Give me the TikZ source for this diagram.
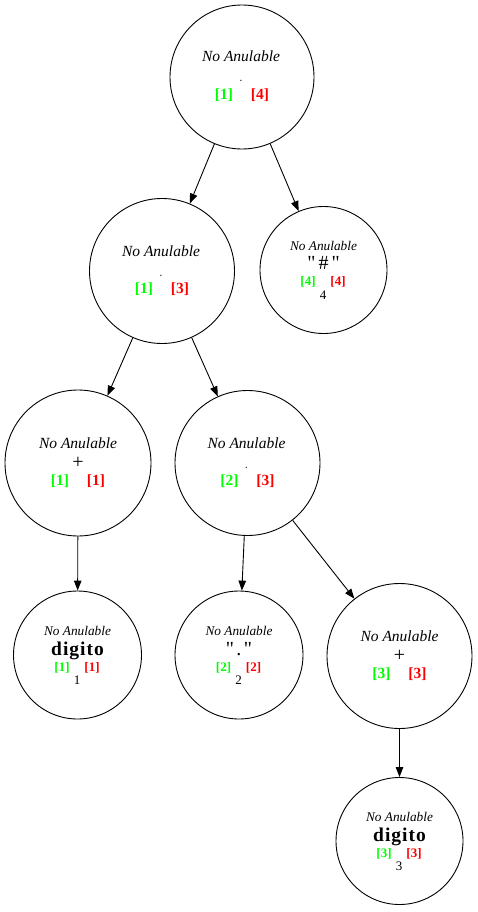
\documentclass[tikz,border=0pt]{standalone}
\usepackage{fontspec}
\setmainfont{Liberation Serif}[Ligatures=TeXOff]
\usetikzlibrary{arrows.meta}
\definecolor{gvgreen}{RGB}{0,255,0}
\definecolor{gvred}{RGB}{255,0,0}
\newcommand{\fs}[1]{\fontsize{#1}{#1}\selectfont}
\begin{document}
\begin{tikzpicture}[x=1pt,y=-1pt,
  vtx/.style={circle,draw,line width=0.9pt,inner sep=0pt,minimum size=#1},
  txt/.style={inner sep=0pt,anchor=base},
  bigna/.style={txt,font=\fs{15.5}\itshape},
  bigmid/.style={txt,font=\fs{20}},
  bigdot/.style={txt,font=\fs{13},text=black!75},
  bigbr/.style={txt,font=\fs{15.5}\bfseries},
  smna/.style={txt,font=\fs{13.3}\itshape},
  smmid/.style={txt,font=\fs{20}},
  smbold/.style={txt,font=\fs{19.5}\bfseries\addfontfeature{LetterSpace=5}},
  smbr/.style={txt,font=\fs{13}\bfseries},
  smnum/.style={txt,font=\fs{13}},
  arr/.style={line width=0.9pt,-{Triangle[length=10pt,width=7.5pt]}}]
\useasboundingbox (0,0) rectangle (477,912);
% circles
\node[vtx=144pt] (n1) at (242,77) {};
\node[vtx=145pt] (n2) at (162,271) {};
\node[vtx=127pt] (n3) at (323.5,270) {};
\node[vtx=146pt] (n4) at (78,463) {};
\node[vtx=145pt] (n5) at (247.5,463) {};
\node[vtx=128pt] (n6) at (77.5,655) {};
\node[vtx=128pt] (n7) at (239,655) {};
\node[vtx=145pt] (n8) at (399.5,656) {};
\node[vtx=127pt] (n9) at (399.5,841) {};
% big node texts
\node[bigna] (n1a) at ([shift={(-1,-15)}]n1.center) {No Anulable};
\node[bigdot] (n1b) at ([shift={(-1,5)}]n1.center) {.};
\node[bigbr,text=gvgreen] (n1c) at ([shift={(-18,22.5)}]n1.center) {[1]};
\node[bigbr,text=gvred] (n1d) at ([shift={(18,22.5)}]n1.center) {[4]};
\node[bigna] (n2a) at ([shift={(-1,-15)}]n2.center) {No Anulable};
\node[bigdot] (n2b) at ([shift={(-1,5)}]n2.center) {.};
\node[bigbr,text=gvgreen] (n2c) at ([shift={(-18,22)}]n2.center) {[1]};
\node[bigbr,text=gvred] (n2d) at ([shift={(18,22)}]n2.center) {[3]};
\node[bigna] (n4a) at ([shift={(0,-15)}]n4.center) {No Anulable};
\node[bigmid] (n4b) at ([shift={(0,5)}]n4.center) {+};
\node[bigbr,text=gvgreen] (n4c) at ([shift={(-18,22.5)}]n4.center) {[1]};
\node[bigbr,text=gvred] (n4d) at ([shift={(18,22.5)}]n4.center) {[1]};
\node[bigna] (n5a) at ([shift={(-1,-15)}]n5.center) {No Anulable};
\node[bigdot] (n5b) at ([shift={(-1,5)}]n5.center) {.};
\node[bigbr,text=gvgreen] (n5c) at ([shift={(-18,22.5)}]n5.center) {[2]};
\node[bigbr,text=gvred] (n5d) at ([shift={(18,22.5)}]n5.center) {[3]};
\node[bigna] (n8a) at ([shift={(0,-15)}]n8.center) {No Anulable};
\node[bigmid] (n8b) at ([shift={(0,5)}]n8.center) {+};
\node[bigbr,text=gvgreen] (n8c) at ([shift={(-18,22.5)}]n8.center) {[3]};
\node[bigbr,text=gvred] (n8d) at ([shift={(18,22.5)}]n8.center) {[3]};
% small node texts
\node[smna] (n3a) at ([shift={(0,-20)}]n3.center) {No Anulable};
\node[smmid] (n3b) at ([shift={(0,-1)}]n3.center) {"\kern3pt\#\kern3pt"};
\node[smbr,text=gvgreen] (n3c) at ([shift={(-15.5,15.5)}]n3.center) {[4]};
\node[smbr,text=gvred] (n3d) at ([shift={(14.5,15.5)}]n3.center) {[4]};
\node[smnum] (n3e) at ([shift={(-0.5,29)}]n3.center) {4};
\node[smna] (n6a) at ([shift={(0,-19.5)}]n6.center) {No Anulable};
\node[smbold] (n6b) at ([shift={(0,0)}]n6.center) {digito};
\node[smbr,text=gvgreen] (n6c) at ([shift={(-15.5,16)}]n6.center) {[1]};
\node[smbr,text=gvred] (n6d) at ([shift={(14.5,16)}]n6.center) {[1]};
\node[smnum] (n6e) at ([shift={(-0.5,29)}]n6.center) {1};
\node[smna] (n7a) at ([shift={(0,-19.5)}]n7.center) {No Anulable};
\node[smmid] (n7b) at ([shift={(0,0)}]n7.center) {"\kern2.5pt.\kern2.5pt"};
\node[smbr,text=gvgreen] (n7c) at ([shift={(-15.5,16)}]n7.center) {[2]};
\node[smbr,text=gvred] (n7d) at ([shift={(14.5,16)}]n7.center) {[2]};
\node[smnum] (n7e) at ([shift={(-0.5,29)}]n7.center) {2};
\node[smna] (n9a) at ([shift={(0,-19.5)}]n9.center) {No Anulable};
\node[smbold] (n9b) at ([shift={(0,0)}]n9.center) {digito};
\node[smbr,text=gvgreen] (n9c) at ([shift={(-15.5,16)}]n9.center) {[3]};
\node[smbr,text=gvred] (n9d) at ([shift={(14.5,16)}]n9.center) {[3]};
\node[smnum] (n9e) at ([shift={(-0.5,29)}]n9.center) {3};
% edges
\draw[arr] (n1) -- (n2);
\draw[arr] (n1) -- (n3);
\draw[arr] (n2) -- (n4);
\draw[arr] (n2) -- (n5);
\draw[arr] (n4) -- (n6);
\draw[arr] (n5) -- (n7);
\draw[arr] (n5) -- (n8);
\draw[arr] (n8) -- (n9);
\end{tikzpicture}
\end{document}
